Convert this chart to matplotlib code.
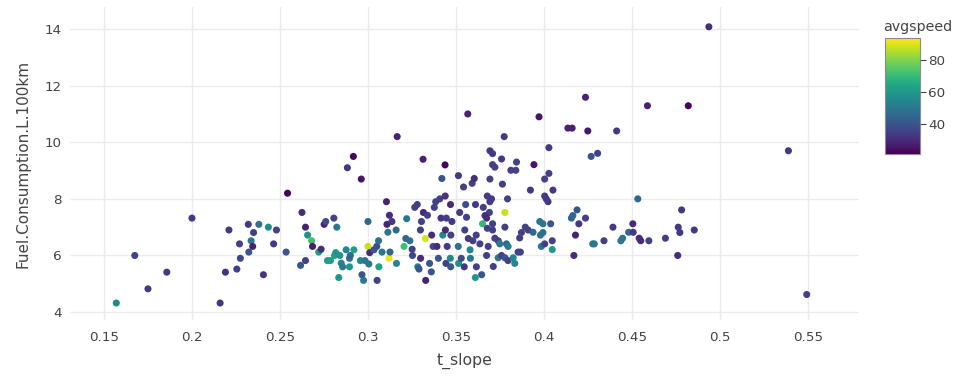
import matplotlib
matplotlib.use("Agg")
import matplotlib.pyplot as plt
import numpy as np

plt.rcParams['font.family'] = ['DejaVu Sans']

t_slope = [
    0.157, 0.1675, 0.175, 0.1857, 0.2, 0.216, 0.219, 0.221, 0.2255, 0.227,
    0.2275, 0.232, 0.2323, 0.2336, 0.2345, 0.235, 0.238, 0.2406, 0.2434, 0.2464,
    0.248, 0.2535, 0.2543, 0.2617, 0.2625, 0.2645, 0.2645, 0.2657, 0.268, 0.2685,
    0.272, 0.2734, 0.2751, 0.276, 0.277, 0.2787, 0.2806, 0.281, 0.2823, 0.2817,
    0.2834, 0.284, 0.2848, 0.2856, 0.2876, 0.2883, 0.2895, 0.2895, 0.29, 0.2917,
    0.292, 0.2957, 0.2962, 0.2966, 0.2975, 0.2983, 0.3, 0.3, 0.3005, 0.301,
    0.3034, 0.305, 0.3052, 0.306, 0.3062, 0.308, 0.3105, 0.3108, 0.3113, 0.312,
    0.3122, 0.3136, 0.3125, 0.316, 0.3166, 0.3162, 0.3205, 0.3215, 0.322, 0.3238,
    0.3251, 0.3253, 0.3266, 0.328, 0.3283, 0.329, 0.3298, 0.3299, 0.3304, 0.3313,
    0.3315, 0.3326, 0.3328, 0.3338, 0.335, 0.336, 0.3362, 0.337, 0.3377, 0.3385,
    0.3392, 0.34, 0.3408, 0.3415, 0.342, 0.3425, 0.3438, 0.3439, 0.344, 0.3443,
    0.3445, 0.345, 0.3468, 0.3469, 0.347, 0.3471, 0.3477, 0.3514, 0.3515, 0.3521,
    0.3513, 0.353, 0.3543, 0.3547, 0.355, 0.3555, 0.356, 0.3567, 0.357, 0.358,
    0.3582, 0.3592, 0.3596, 0.3604, 0.361, 0.3611, 0.3615, 0.3616,
    0.4937, 0.4236, 0.4588, 0.482, 0.3972, 0.4136, 0.416, 0.4249, 0.4413, 0.3774,
    0.5389, 0.4028, 0.3693, 0.3708, 0.4268, 0.4305, 0.3759, 0.3943, 0.3708, 0.3721,
    0.3844, 0.3812, 0.384, 0.4028, 0.4004, 0.3693, 0.3764, 0.3923, 0.4051, 0.3678,
    0.3702, 0.4004, 0.4013, 0.4023, 0.3793, 0.3693, 0.4533, 0.3655, 0.369, 0.3778,
    0.4188, 0.4782, 0.4164, 0.4156, 0.4236, 0.3665, 0.3674, 0.3651, 0.3976, 0.3994,
    0.4038, 0.4198, 0.4505, 0.3708, 0.3678, 0.3708, 0.3778, 0.3894, 0.391, 0.3938,
    0.3872, 0.3862, 0.398, 0.3994, 0.4047, 0.4392, 0.4481, 0.4507, 0.4763, 0.4772,
    0.4854, 0.4179, 0.4437, 0.4447, 0.4541, 0.455, 0.4596, 0.469, 0.4341, 0.4277,
    0.4286, 0.3636, 0.3683, 0.3721, 0.374, 0.3749, 0.3787, 0.3796, 0.3985, 0.4004,
    0.4047, 0.417, 0.476, 0.3674, 0.374, 0.3759, 0.3778, 0.3796, 0.3825, 0.3834,
    0.3853, 0.3866, 0.3712, 0.3646, 0.5493,
]
fuel_consumption = [
    4.32, 6.0, 4.82, 5.41, 7.32, 4.32, 5.41, 6.9, 5.52, 6.41,
    5.9, 7.1, 6.12, 6.52, 6.32, 6.81, 7.1, 5.32, 7.0, 6.41,
    6.9, 6.12, 8.2, 5.65, 7.52, 5.82, 7.0, 6.72, 6.52, 6.32,
    6.12, 6.22, 7.1, 7.2, 5.82, 5.82, 7.32, 6.0, 7.0, 6.1,
    5.22, 6.0, 5.73, 5.6, 6.2, 9.1, 5.6, 5.9, 6.0, 9.5,
    6.2, 5.82, 8.7, 5.32, 5.12, 5.82, 7.2, 6.32, 5.7, 6.1,
    6.2, 6.32, 5.12, 6.52, 5.6, 6.12, 7.9, 7.1, 6.82, 5.9,
    7.42, 7.2, 6.12, 6.9, 10.2, 5.72, 6.32, 6.6, 7.3, 6.52,
    6.22, 6.0, 7.7, 7.8, 5.6, 5.52, 6.9, 5.9, 7.2, 9.4,
    7.52, 6.6, 5.12, 7.42, 5.72, 5.42, 6.72, 6.32, 7.7, 7.9,
    6.32, 5.9, 8.0, 7.32, 8.72, 6.72, 9.2, 8.1, 6.9, 5.72,
    7.32, 6.32, 5.9, 7.8, 5.6, 6.72, 7.2, 8.82, 5.72, 7.52,
    6.32, 5.9, 8.42, 5.6, 6.9, 7.8, 7.35, 11.0, 6.6, 6.2,
    5.9, 8.55, 6.52, 8.72, 5.22, 7.8, 6.72, 5.6,
    14.08, 11.59, 11.29, 11.29, 10.9, 10.5, 10.5, 10.4, 10.4, 10.2,
    9.7, 9.81, 9.7, 9.6, 9.5, 9.61, 9.41, 9.21, 9.21, 9.12,
    9.3, 9.01, 9.01, 8.9, 8.7, 8.7, 8.52, 8.31, 8.31, 8.1,
    8.0, 8.1, 8.0, 7.9, 8.0, 7.9, 8.0, 7.7, 7.52, 7.52,
    7.61, 7.61, 7.41, 7.32, 7.32, 7.41, 7.32, 7.12, 7.2, 7.12,
    7.12, 7.12, 7.12, 7.12, 6.96, 6.9, 7.0, 7.0, 6.9, 6.82,
    6.81, 6.62, 6.72, 6.81, 6.52, 7.0, 6.82, 6.82, 7.0, 6.81,
    6.9, 6.72, 6.52, 6.61, 6.61, 6.52, 6.52, 6.61, 6.52, 6.41,
    6.41, 6.41, 6.32, 6.61, 6.52, 6.41, 6.41, 6.32, 6.32, 6.41,
    6.21, 6.0, 6.0, 6.0, 5.92, 6.0, 5.92, 5.82, 5.92, 5.72,
    6.12, 6.12, 5.61, 5.32, 4.62,
]
avgspeed = [
    55, 35, 33, 33, 33, 33, 32, 33, 35, 35,
    37, 33, 40, 50, 28, 35, 48, 32, 55, 33,
    35, 40, 22, 40, 30, 35, 28, 58, 72, 27,
    62, 30, 28, 38, 62, 62, 35, 62, 50, 60,
    60, 60, 55, 50, 55, 33, 60, 48, 45, 22,
    62, 55, 25, 40, 50, 50, 45, 88, 50, 30,
    40, 38, 35, 48, 62, 50, 28, 28, 50, 92,
    30, 33, 45, 45, 28, 55, 72, 45, 50, 48,
    35, 37, 35, 35, 50, 40, 35, 30, 35, 28,
    30, 90, 28, 35, 40, 40, 30, 38, 35, 35,
    30, 40, 35, 32, 40, 55, 22, 32, 30, 35,
    35, 33, 55, 30, 40, 35, 33, 33, 58, 33,
    48, 38, 35, 33, 35, 38, 35, 28, 33, 55,
    50, 35, 35, 30, 60, 33, 35, 35,
    30, 28, 28, 22, 25, 28, 28, 25, 33, 33,
    33, 33, 33, 33, 40, 35, 33, 25, 35, 35,
    35, 35, 35, 35, 35, 35, 35, 33, 33, 33,
    33, 33, 33, 33, 35, 33, 45, 35, 35, 88,
    40, 33, 45, 45, 35, 30, 30, 70, 50, 50,
    40, 33, 30, 35, 35, 35, 35, 35, 35, 45,
    35, 35, 48, 48, 35, 33, 45, 33, 33, 33,
    33, 28, 50, 50, 30, 30, 35, 35, 35, 50,
    50, 35, 35, 35, 35, 50, 45, 50, 50, 35,
    60, 30, 30, 35, 50, 35, 40, 35, 55, 55,
    35, 35, 35, 40, 35,
]

x_ticks = [0.15, 0.2, 0.25, 0.3, 0.35, 0.4, 0.45, 0.5, 0.55]
x_tick_labels = ["0.15", "0.2", "0.25", "0.3", "0.35", "0.4", "0.45", "0.5", "0.55"]
y_ticks = [4, 6, 8, 10, 12, 14]
cbar_ticks = [40, 60, 80]

W, H = 962, 376
fig = plt.figure(figsize=(W / 100, H / 100), dpi=100)
L, R, T, B = 70, 859, 7, 320
ax = fig.add_axes([L / W, 1 - B / H, (R - L) / W, (B - T) / H])

sc = ax.scatter(t_slope, fuel_consumption, c=avgspeed, cmap='viridis',
                vmin=21, vmax=94, s=26, linewidths=0, zorder=3)

ax.set_xlim(0.1307, 0.5790)
ax.set_ylim(3.72, 14.78)
ax.set_xticks(x_ticks)
ax.set_xticklabels(x_tick_labels)
ax.set_yticks(y_ticks)
ax.grid(True, color='#ebebeb', linewidth=1, zorder=0)
ax.set_axisbelow(True)
for s in ax.spines.values():
    s.set_visible(False)
ax.tick_params(length=0, labelsize=9.7, labelcolor='#444444')
ax.tick_params(axis='x', pad=8)
ax.tick_params(axis='y', pad=6)
ax.set_xlabel('t_slope', fontsize=11.3, color='#444444', labelpad=6)
ax.set_ylabel('Fuel.Consumption.L.100km', fontsize=11.0, color='#444444', labelpad=10)

cax = fig.add_axes([885 / W, 1 - 154 / H, 35 / W, 116 / H])
cb = fig.colorbar(sc, cax=cax, ticks=cbar_ticks)
cb.outline.set_edgecolor('#8a8a8a')
cb.outline.set_linewidth(0.8)
cax.tick_params(length=4, width=0.8, color='#444444', labelsize=9.7,
                labelcolor='#444444', pad=2)
cax.set_title('avgspeed', fontsize=10.3, color='#444444', loc='left', pad=5, x=-0.05)

fig.savefig('out.png', dpi=100)
